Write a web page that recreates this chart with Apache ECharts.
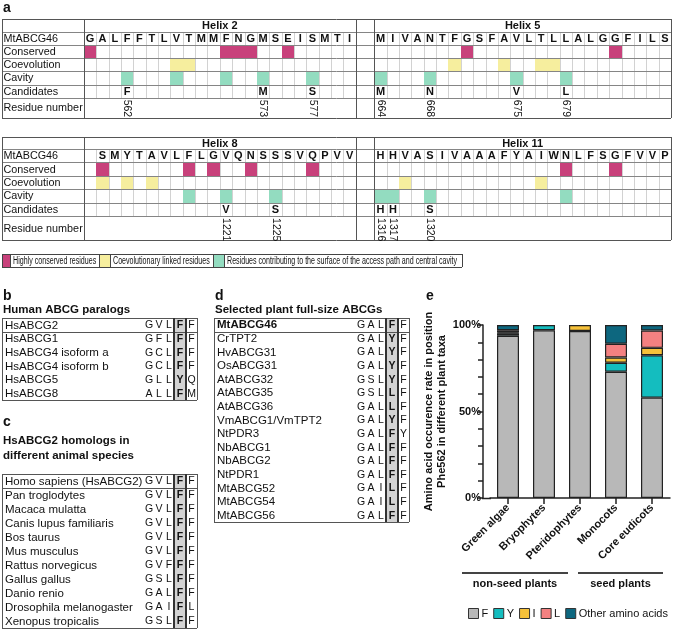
<!DOCTYPE html>
<html><head><meta charset="utf-8">
<script src="https://cdn.jsdelivr.net/npm/echarts@6/dist/echarts.min.js"></script>
<style>html,body{margin:0;padding:0;background:#fff}#c{width:676px;height:632px}</style>
</head><body><div id="c"></div>
<script>
// ---------------- DATA ----------------
const rowLabels = ['MtABCG46', 'Conserved', 'Coevolution', 'Cavity', 'Candidates', 'Residue number'];

const helix2Residues = ['G','A','L','F','F','T','L','V','T','M','M','F','N','G','M','S','E','I','S','M','T','I'];
const helix2Conserved = [0, 11, 12, 13, 16];
const helix2Coevolution = [7, 8];
const helix2Cavity = [3, 7, 11, 14, 18];
const helix2Candidates = [3, 14, 18];
const helix2Numbers = [562, 573, 577];

const helix5Residues = ['M','I','V','A','N','T','F','G','S','F','A','V','L','T','L','L','A','L','G','G','F','I','L','S'];
const helix5Conserved = [7, 19];
const helix5Coevolution = [6, 10, 13, 14];
const helix5Cavity = [0, 4, 11, 15];
const helix5Candidates = [0, 4, 11, 15];
const helix5Numbers = [664, 668, 675, 679];

const helix8Residues = ['S','M','Y','T','A','V','L','F','L','G','V','Q','N','S','S','S','V','Q','P','V','V'];
const helix8Conserved = [0, 7, 9, 12, 17];
const helix8Coevolution = [0, 2, 4];
const helix8Cavity = [7, 10, 14];
const helix8Candidates = [10, 14];
const helix8Numbers = [1221, 1225];

const helix11Residues = ['H','H','V','A','S','I','V','A','A','A','F','Y','A','I','W','N','L','F','S','G','F','V','V','P'];
const helix11Conserved = [15, 19];
const helix11Coevolution = [2, 13];
const helix11Cavity = [0, 1, 4, 15];
const helix11Candidates = [0, 1, 4];
const helix11Numbers = [1316, 1317, 1320];

const legendALabels = ['Highly conserved residues', 'Coevolutionary linked residues', 'Residues contributing to the surface of the access path and central cavity'];

const paralogNames = ['HsABCG2', 'HsABCG1', 'HsABCG4 isoform a', 'HsABCG4 isoform b', 'HsABCG5', 'HsABCG8'];
const paralogSeqs = ['GVLFF', 'GFLFF', 'GCLFF', 'GCLFF', 'GLLYQ', 'ALLFM'];

const homologNames = ['Homo sapiens (HsABCG2)', 'Pan troglodytes', 'Macaca mulatta', 'Canis lupus familiaris', 'Bos taurus', 'Mus musculus', 'Rattus norvegicus', 'Gallus gallus', 'Danio renio', 'Drosophila melanogaster', 'Xenopus tropicalis'];
const homologSeqs = ['GVLFF', 'GVLFF', 'GVLFF', 'GVLFF', 'GVLFF', 'GVLFF', 'GVFFF', 'GSLFF', 'GALFF', 'GAIFL', 'GSLFF'];

const plantNames = ['MtABCG46', 'CrTPT2', 'HvABCG31', 'OsABCG31', 'AtABCG32', 'AtABCG35', 'AtABCG36', 'VmABCG1/VmTPT2', 'NtPDR3', 'NbABCG1', 'NbABCG2', 'NtPDR1', 'MtABCG52', 'MtABCG54', 'MtABCG56'];
const plantSeqs = ['GALFF', 'GALYF', 'GALYF', 'GALYF', 'GSLYF', 'GSLLF', 'GALLF', 'GALYF', 'GALFY', 'GALFF', 'GALFF', 'GALFF', 'GAILF', 'GAILF', 'GALFF'];

const taxa = ['Green algae', 'Bryophytes', 'Pteridophytes', 'Monocots', 'Core eudicots'];
const pctF = [93.8, 97.0, 96.5, 73.0, 58.0];
const pctY = [1.4, 3.0, 0, 5.2, 24.5];
const pctI = [0.4, 0, 3.5, 3.0, 4.3];
const pctL = [1.4, 0, 0, 8.0, 10.0];
const pctOther = [3.0, 0, 0, 10.8, 3.2];
const aminoNames = ['F', 'Y', 'I', 'L', 'Other amino acids'];
const yLabelValues = [0, 50, 100];
const taxaGroups = ['non-seed plants', 'seed plants'];
const taxaGroupRanges = [[0, 2], [3, 4]];

// ---------------- STYLE ----------------
const FONT = "'Liberation Sans', Arial, Helvetica, sans-serif";
const C_CONS = '#c8417b', C_COEV = '#f6ee9e', C_CAV = '#93dcc0';
const aminoColors = ['#b8b8b8', '#14bdbf', '#f6c139', '#f48181', '#0d677f'];

// ---------------- TABLE HELPERS ----------------
function newTable(cols, rows) {
  const cx = [0], ry = [0];
  cols.forEach(w => cx.push(cx[cx.length - 1] + w));
  rows.forEach(h => ry.push(ry[ry.length - 1] + h));
  const data = [], metas = [];
  const add = (x0, x1, y0, y1, m) => { metas.push(m); data.push([x0, x1, y0, y1, metas.length - 1]); };
  const t = {
    cx, ry, data, metas, nc: cols.length, nr: rows.length,
    W: cx[cx.length - 1], H: ry[ry.length - 1],
    fill(c0, c1, r0, r1, color) { add(cx[c0], cx[c1], ry[r0], ry[r1], { kind: 'fill', fill: color }); },
    hline(c0, c1, r, stroke, lw) { add(cx[c0], cx[c1], ry[r], ry[r], { kind: 'line', stroke, lw }); },
    vline(c, r0, r1, stroke, lw) { add(cx[c], cx[c], ry[r0], ry[r1], { kind: 'line', stroke, lw }); },
    text(c0, c1, r0, r1, text, o) { add(cx[c0], cx[c1], ry[r0], ry[r1], Object.assign({ kind: 'text', text }, o || {})); },
    border(stroke, lw) {
      t.hline(0, t.nc, 0, stroke, lw); t.hline(0, t.nc, t.nr, stroke, lw);
      t.vline(0, 0, t.nr, stroke, lw); t.vline(t.nc, 0, t.nr, stroke, lw);
    }
  };
  return t;
}

function makeRender(metas) {
  return function (params, api) {
    const m = metas[api.value(4)];
    const p0 = api.coord([api.value(0), api.value(2)]);
    const p1 = api.coord([api.value(1), api.value(3)]);
    const x0 = Math.min(p0[0], p1[0]), x1 = Math.max(p0[0], p1[0]);
    const y0 = Math.min(p0[1], p1[1]), y1 = Math.max(p0[1], p1[1]);
    if (m.kind === 'fill') {
      const rx = Math.round(x0), ryy = Math.round(y0);
      return { type: 'rect', shape: { x: rx, y: ryy, width: Math.round(x1) - rx, height: Math.round(y1) - ryy }, style: { fill: m.fill } };
    }
    if (m.kind === 'line') {
      const off = (m.lw % 2 === 1) ? 0.5 : 0;
      let ax = x0, bx = x1, ay = y0, by = y1;
      if (Math.abs(x1 - x0) < 0.01) { ax = bx = Math.round(x0) + off; ay = Math.round(y0); by = Math.round(y1); }
      else { ay = by = Math.round(y0) + off; ax = Math.round(x0); bx = Math.round(x1); }
      return { type: 'line', shape: { x1: ax, y1: ay, x2: bx, y2: by }, style: { stroke: m.stroke, lineWidth: m.lw } };
    }
    const st = { text: m.text, fontFamily: FONT, fontSize: m.size || 11, fontWeight: m.bold ? 'bold' : 'normal', fill: '#111', verticalAlign: 'middle', x: 0, y: 0 };
    if (m.rotate) {
      st.align = 'left';
      return { type: 'text', x: (x0 + x1) / 2, y: y0 + 2, rotation: -Math.PI / 2, style: st };
    }
    if (m.align === 'left') {
      st.align = 'left';
      return { type: 'text', x: x0 + (m.pad != null ? m.pad : 2), y: (y0 + y1) / 2 + 0.5, scaleX: m.sx || 1, style: st };
    }
    st.align = 'center';
    return { type: 'text', x: (x0 + x1) / 2, y: (y0 + y1) / 2 + 0.5, scaleX: m.sx || 1, style: st };
  };
}

function helixTable(b1, b2, rowHeights) {
  const cols = [6.62];
  for (let i = 0; i < 22; i++) cols.push(1);
  cols.push(1.5);
  for (let i = 0; i < 24; i++) cols.push(1);
  const t = newTable(cols, rowHeights);
  const blocks = [Object.assign({ start: 1, n: 22 }, b1), Object.assign({ start: 24, n: 24 }, b2)];
  blocks.forEach(b => { for (let k = 1; k < b.n; k++) t.vline(b.start + k, 1, 6, '#d2d2d2', 1); });
  blocks.forEach(b => {
    const c = i => b.start + b.lead + i;
    b.cons.forEach(i => t.fill(c(i), c(i) + 1, 2, 3, C_CONS));
    b.coev.forEach(i => t.fill(c(i), c(i) + 1, 3, 4, C_COEV));
    b.cav.forEach(i => t.fill(c(i), c(i) + 1, 4, 5, C_CAV));
  });
  for (let r = 1; r <= 6; r++) t.hline(0, t.nc, r, '#858585', 1);
  [1, 23, 24].forEach(ci => t.vline(ci, 0, t.nr, '#555', 1));
  t.border('#555', 1);
  rowLabels.forEach((s, k) => t.text(0, 1, k + 1, k + 2, s, { align: 'left', pad: 1.5, size: 10.8 }));
  blocks.forEach(b => {
    const c = i => b.start + b.lead + i;
    t.text(b.start, b.start + b.n, 0, 1, b.name, { bold: true, size: 11 });
    b.res.forEach((ch, i) => t.text(c(i), c(i) + 1, 1, 2, ch, { bold: true, size: 11 }));
    b.cand.forEach(i => t.text(c(i), c(i) + 1, 5, 6, b.res[i], { bold: true, size: 11 }));
    b.cand.forEach((i, j) => t.text(c(i), c(i) + 1, 6, 7, String(b.nums[j]), { rotate: true, size: 10.5 }));
  });
  return t;
}

function seqTable(names, seqs, boldFirstName) {
  const cols = [142, 10, 10, 10, 12, 11];
  const t = newTable(cols, names.map(() => 1));
  t.fill(4, 5, 0, t.nr, '#d3d3d3');
  t.hline(0, t.nc, 1, '#555', 1);
  t.border('#555', 1);
  t.vline(4, 0, t.nr, '#333', 2);
  t.vline(5, 0, t.nr, '#333', 2);
  names.forEach((nm, r) => {
    t.text(0, 1, r, r + 1, nm, { align: 'left', pad: 3, size: 11.5, bold: boldFirstName && r === 0 });
    seqs[r].split('').forEach((ch, k) => t.text(k + 1, k + 2, r, r + 1, ch, { size: 10.5, bold: k === 3 }));
  });
  return t;
}

function legendTable() {
  const t = newTable([8, 89, 11, 103, 11, 238], [1]);
  [C_CONS, C_COEV, C_CAV].forEach((col, k) => t.fill(2 * k, 2 * k + 1, 0, 1, col));
  for (let c = 1; c < 6; c++) t.vline(c, 0, 1, '#444', 1);
  t.border('#444', 1);
  legendALabels.forEach((s, k) => t.text(2 * k + 1, 2 * k + 2, 0, 1, s, { align: 'left', pad: 3, size: 10, sx: 0.71 }));
  return t;
}

// ---------------- BUILD OPTION ----------------
const grids = [], xAxes = [], yAxes = [], series = [];
function addTable(t, rect) {
  const i = grids.length;
  grids.push(Object.assign({ containLabel: false }, rect));
  xAxes.push({ type: 'value', gridIndex: i, min: 0, max: t.W, show: false });
  yAxes.push({ type: 'value', gridIndex: i, min: 0, max: t.H, inverse: true, show: false });
  series.push({ type: 'custom', xAxisIndex: i, yAxisIndex: i, renderItem: makeRender(t.metas), data: t.data,
    encode: { x: [0, 1], y: [2, 3] }, clip: false, silent: true, animation: false });
}

const topTable = helixTable(
  { name: 'Helix 2', lead: 0, res: helix2Residues, cons: helix2Conserved, coev: helix2Coevolution, cav: helix2Cavity, cand: helix2Candidates, nums: helix2Numbers },
  { name: 'Helix 5', lead: 0, res: helix5Residues, cons: helix5Conserved, coev: helix5Coevolution, cav: helix5Cavity, cand: helix5Candidates, nums: helix5Numbers },
  [1, 1, 1, 1, 1, 1, 1.55]);
const bottomTable = helixTable(
  { name: 'Helix 8', lead: 1, res: helix8Residues, cons: helix8Conserved, coev: helix8Coevolution, cav: helix8Cavity, cand: helix8Candidates, nums: helix8Numbers },
  { name: 'Helix 11', lead: 0, res: helix11Residues, cons: helix11Conserved, coev: helix11Coevolution, cav: helix11Cavity, cand: helix11Candidates, nums: helix11Numbers },
  [0.89, 1, 1, 1, 1, 1, 1.78]);

addTable(topTable, { left: 2, top: 19, width: 669, height: 99 });
addTable(bottomTable, { left: 2, top: 137, width: 669, height: 103 });
addTable(legendTable(), { left: 2, top: 254, width: 460, height: 13 });
addTable(seqTable(paralogNames, paralogSeqs, false), { left: 2, top: 318, width: 195, height: 82 });
addTable(seqTable(homologNames, homologSeqs, false), { left: 2, top: 474, width: 195, height: 154 });
addTable(seqTable(plantNames, plantSeqs, true), { left: 214, top: 318, width: 195, height: 204 });

// Panel e
const eIdx = grids.length;
grids.push({ left: 490, top: 325, width: 180, height: 173, containLabel: false });
xAxes.push({
  type: 'category', gridIndex: eIdx, data: taxa,
  axisLine: { show: true, lineStyle: { color: '#222', width: 1.5 } },
  axisTick: { show: true, alignWithLabel: true, length: 6, lineStyle: { color: '#222', width: 1.5 } },
  axisLabel: { rotate: 45, interval: 0, margin: 8, fontFamily: FONT, fontSize: 11, fontWeight: 'bold', color: '#111' }
});
yAxes.push({
  type: 'value', gridIndex: eIdx, min: 0, max: 100, interval: 10, offset: 7,
  axisLine: { show: true, lineStyle: { color: '#222', width: 1.5 } },
  axisTick: { show: true, length: 5, lineStyle: { color: '#222', width: 1.5 } },
  splitLine: { show: false },
  axisLabel: { margin: 2, fontFamily: FONT, fontSize: 11, fontWeight: 'bold', color: '#111',
    formatter: v => (yLabelValues.indexOf(v) >= 0 ? v + '%' : '') },
  name: 'Amino acid occurence rate in position\nPhe562 in different plant taxa',
  nameLocation: 'middle', nameGap: 28,
  nameTextStyle: { fontFamily: FONT, fontSize: 11, fontWeight: 'bold', color: '#111', lineHeight: 13, align: 'center' }
});
[pctF, pctY, pctI, pctL, pctOther].forEach((vals, k) => {
  series.push({
    type: 'bar', name: aminoNames[k], stack: 'aa', xAxisIndex: eIdx, yAxisIndex: eIdx, barWidth: 22,
    data: vals.map(v => (v === 0 ? '-' : v)),
    itemStyle: { color: aminoColors[k], borderColor: '#222', borderWidth: 1.2 },
    animation: false
  });
});

const labelStyle = (x, y, text, size, bold) => ({
  type: 'text', x, y, silent: true,
  style: { text, fontFamily: FONT, fontSize: size, fontWeight: bold ? 'bold' : 'normal', fill: '#111', align: 'left', verticalAlign: 'middle' }
});

const graphics = [
  labelStyle(3, 8, 'a', 14, true),
  labelStyle(3, 296, 'b', 14, true),
  labelStyle(3, 310, 'Human ABCG paralogs', 11.5, true),
  labelStyle(3, 422, 'c', 14, true),
  labelStyle(3, 441, 'HsABCG2 homologs in', 11.5, true),
  labelStyle(3, 456, 'different animal species', 11.5, true),
  labelStyle(215, 296, 'd', 14, true),
  labelStyle(215, 310, 'Selected plant full-size ABCGs', 11.5, true),
  labelStyle(426, 296, 'e', 14, true)
];

const option = {
  animation: false,
  backgroundColor: '#fff',
  grid: grids, xAxis: xAxes, yAxis: yAxes, series,
  legend: {
    data: aminoNames, left: 463, top: 603, icon: 'rect', itemWidth: 10, itemHeight: 10, itemGap: 5,
    textStyle: { fontFamily: FONT, fontSize: 11, color: '#111', padding: [0, 0, 0, -2] },
    itemStyle: { borderColor: '#333', borderWidth: 1 }, selectedMode: false
  },
  graphic: graphics
};

const chart = echarts.init(document.getElementById('c'), null, { renderer: 'canvas' });
chart.setOption(option);

// Group annotations under the taxa axis, placed from the axis scale
const cat = i => chart.convertToPixel({ xAxisIndex: eIdx }, taxa[i]);
const baseY = chart.convertToPixel({ yAxisIndex: eIdx }, 0);
const groupGraphics = [];
taxaGroupRanges.forEach((rg, g) => {
  const xa = cat(rg[0]) - (g === 0 ? 46 : 38);
  const xb = cat(rg[1]) + (g === 0 ? -12 : 11);
  groupGraphics.push({ type: 'line', silent: true, shape: { x1: xa, y1: baseY + 75, x2: xb, y2: baseY + 75 }, style: { stroke: '#444', lineWidth: 2 } });
  groupGraphics.push({ type: 'text', silent: true, x: (xa + xb) / 2, y: baseY + 86,
    style: { text: taxaGroups[g], fontFamily: FONT, fontSize: 11, fontWeight: 'bold', fill: '#111', align: 'center', verticalAlign: 'middle' } });
});
// short x-axis stub joining the offset y axis
groupGraphics.push({ type: 'line', silent: true, shape: { x1: 482, y1: baseY + 0.5, x2: 491, y2: baseY + 0.5 }, style: { stroke: '#222', lineWidth: 1.5 } });
chart.setOption({ graphic: graphics.concat(groupGraphics) });
</script>
</body></html>
